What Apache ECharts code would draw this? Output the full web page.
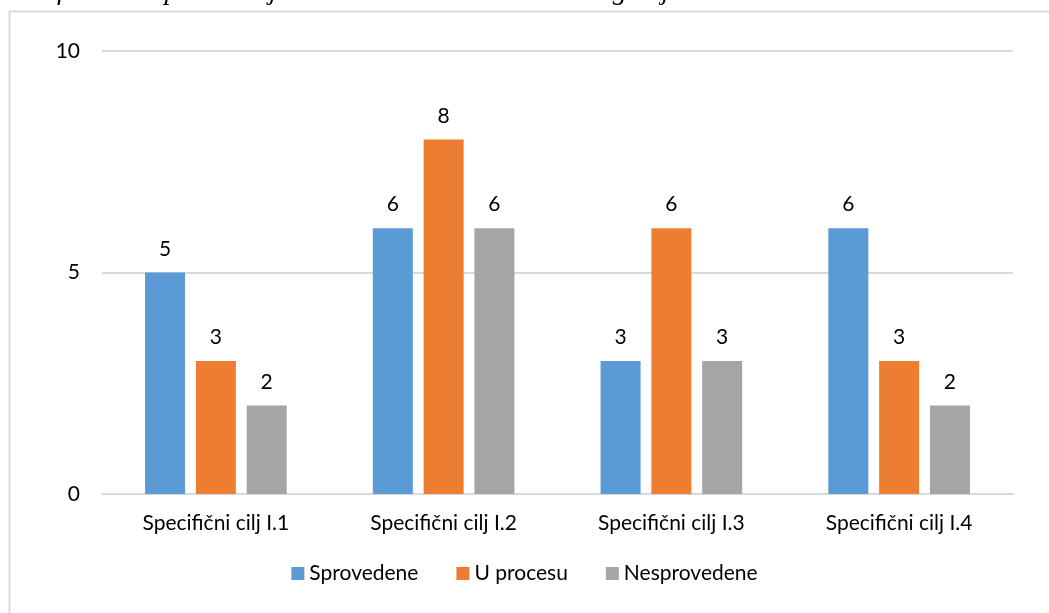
<!DOCTYPE html>
<html><head><meta charset="utf-8">
<script src="https://cdn.jsdelivr.net/npm/echarts@6/dist/echarts.min.js"></script>
<style>html,body{margin:0;padding:0;background:#fff}#c{width:1049px;height:613px}</style>
</head><body><div id="c"></div>
<script>
const categories = ['Specifični cilj I.1','Specifični cilj I.2','Specifični cilj I.3','Specifični cilj I.4'];
const sprovedene = [5,6,3,6];
const uProcesu = [3,8,6,3];
const nesprovedene = [2,6,3,2];
const seriesNames = ['Sprovedene','U procesu','Nesprovedene'];
const colors = ['#5B9BD5','#ED7D31','#A5A5A5'];
const FONT = 'Lato';
const FS = 21;
const chart = echarts.init(document.getElementById('c'));
const mk = (name, data, color) => ({
  name, type:'bar', data, barWidth:40, barGap:'27%',
  itemStyle:{color},
  label:{show:true, position:'top', distance:13, color:'#000', fontSize:FS, fontFamily:FONT}
});
chart.setOption({
  animation:false,
  graphic:[
    {type:'rect', left:7, top:9, shape:{width:1100, height:700}, style:{fill:'none', stroke:'#d9d9d9', lineWidth:2}, silent:true},
    {type:'text', left:12, top:-22, style:{text:'Grafikon 4: Sprovođenje aktivnosti u okviru strateškog cilja', font:'italic 28px "Liberation Serif"', fill:'#000'}}
  ],
  grid:{left:102, right:36, top:51, bottom:119, containLabel:false},
  legend:{bottom:24, left:'center', itemWidth:13, itemHeight:13, itemGap:38,
    textStyle:{fontSize:FS, fontFamily:FONT, color:'#000'}, data:seriesNames, icon:'rect'},
  xAxis:{type:'category', data:categories,
    axisLine:{lineStyle:{color:'#d9d9d9', width:2}}, axisTick:{show:false},
    axisLabel:{color:'#000', fontSize:FS, fontFamily:FONT, margin:19}},
  yAxis:{type:'value', min:0, max:10, interval:5,
    axisLine:{show:false}, axisTick:{show:false},
    splitLine:{lineStyle:{color:'#d9d9d9', width:2}},
    axisLabel:{color:'#000', fontSize:FS, fontFamily:FONT, margin:22}},
  series:[mk(seriesNames[0], sprovedene, colors[0]), mk(seriesNames[1], uProcesu, colors[1]), mk(seriesNames[2], nesprovedene, colors[2])]
});
</script></body></html>
